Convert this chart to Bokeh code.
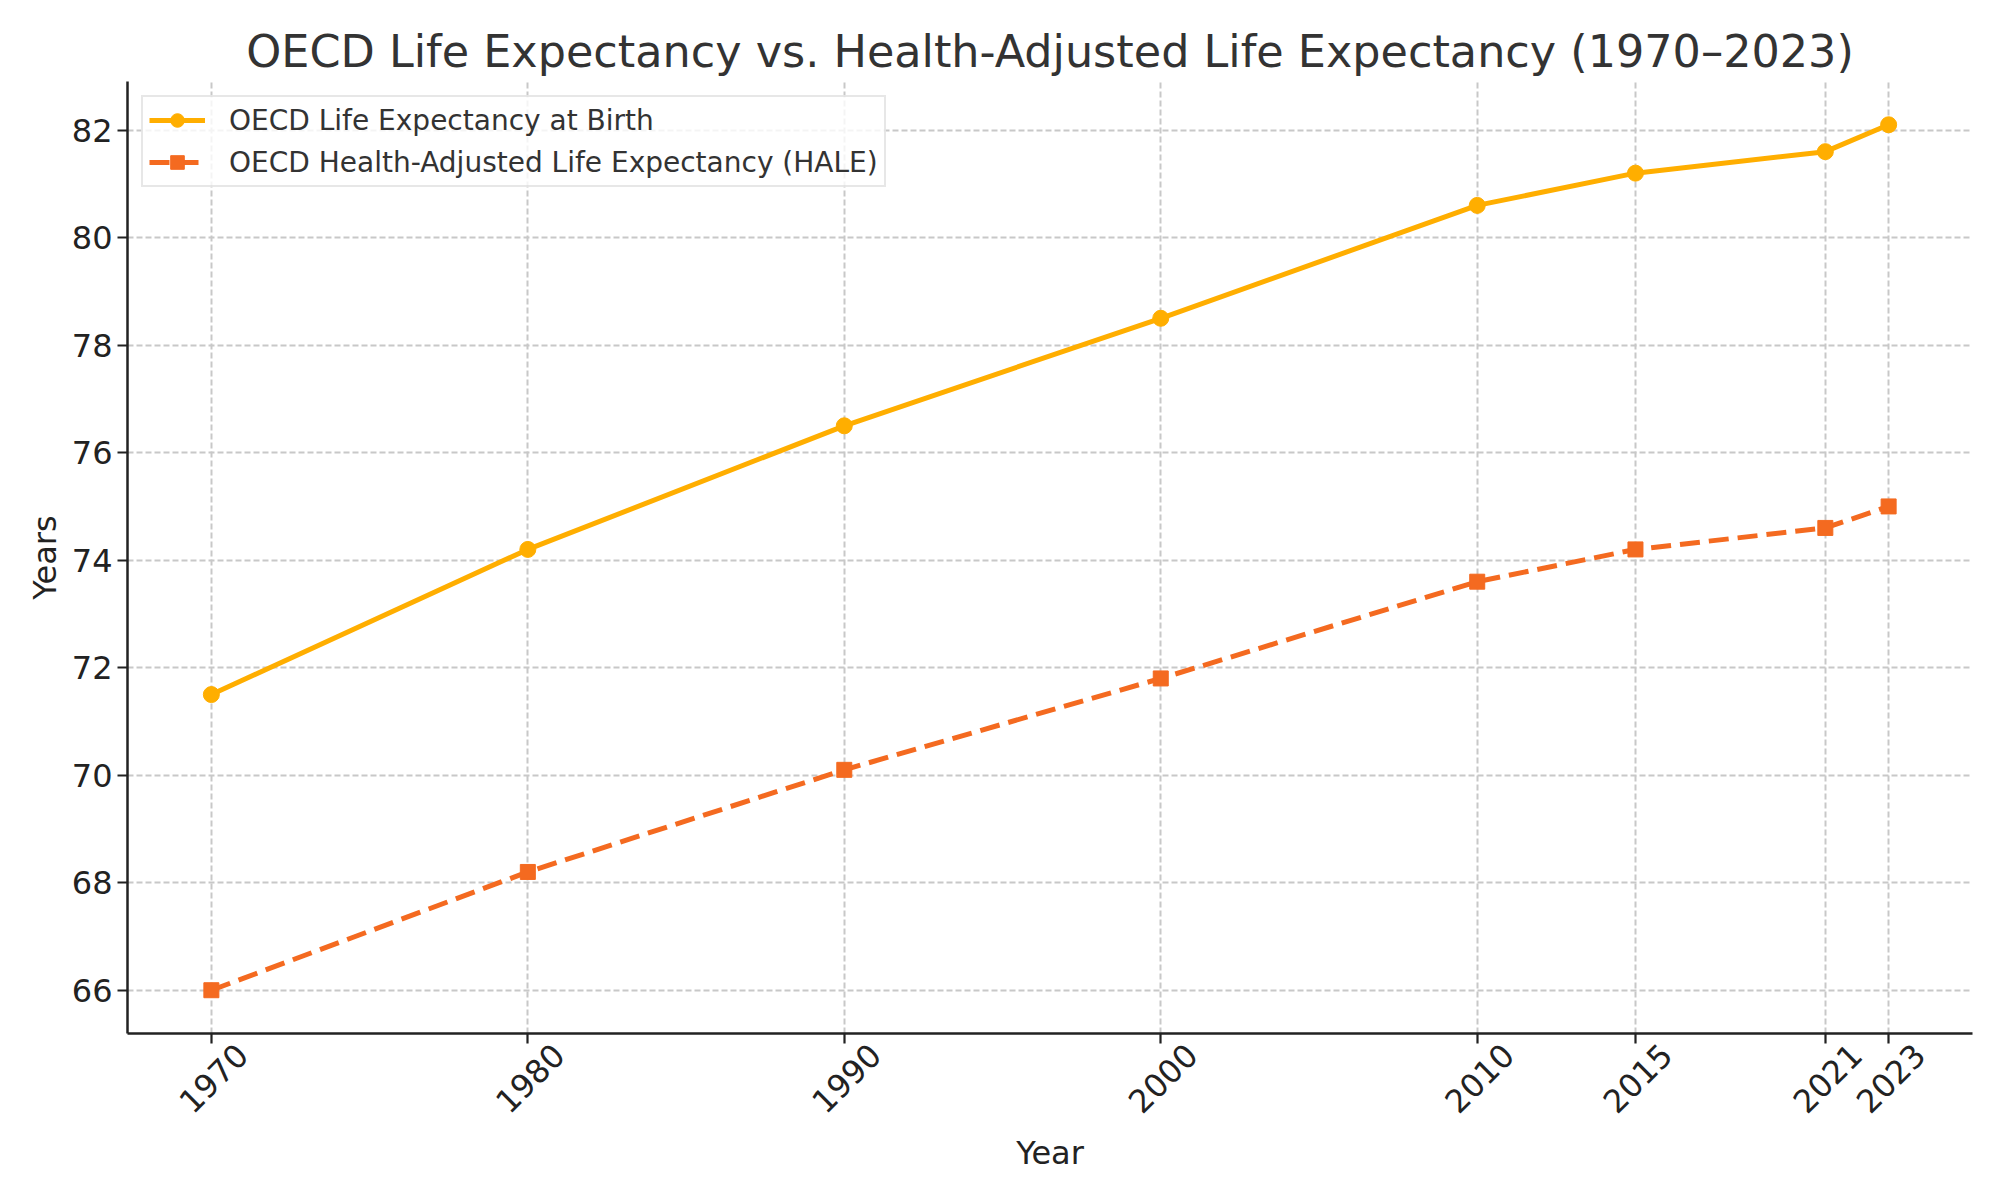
from bokeh.plotting import figure
from bokeh.models import FixedTicker, Range1d, Legend, LegendItem, LinearAxis
from bokeh.embed import file_html
from bokeh.resources import INLINE
import math

years = [1970, 1980, 1990, 2000, 2010, 2015, 2021, 2023]
year_labels = ["1970", "1980", "1990", "2000", "2010", "2015", "2021", "2023"]
life_expectancy = [71.5, 74.2, 76.5, 78.5, 80.6, 81.2, 81.6, 82.1]
hale = [66.0, 68.2, 70.1, 71.8, 73.6, 74.2, 74.6, 75.0]
y_ticks = [66, 68, 70, 72, 74, 76, 78, 80, 82]

FONT = "DejaVu Sans"
C_LE = "#FFAE00"
C_HALE = "#F46A20"

X0, X1 = 1967.35, 2025.65
W, H = 1992, 1192
BL, BR, BT, BB = 127, 20, 81, 159

p = figure(width=W, height=H, output_backend="svg", toolbar_location=None,
           x_range=Range1d(X0, X1), y_range=Range1d(65.195, 82.905),
           min_border_left=BL, min_border_right=BR, min_border_top=BT, min_border_bottom=BB,
           title="OECD Life Expectancy vs. Health-Adjusted Life Expectancy (1970–2023)")

p.title.text_font = FONT
p.title.text_font_size = "44.5px"
p.title.text_font_style = "normal"
p.title.text_color = "#333333"
p.title.align = "center"

p.outline_line_color = None
p.background_fill_color = "white"

for g in (p.xgrid, p.ygrid):
    g.grid_line_color = "#c8c8c8"
    g.grid_line_width = 2
    g.grid_line_dash = "6 3"

xa = p.xaxis[0]
ya = p.yaxis[0]
xa.ticker = FixedTicker(ticks=years)
ya.ticker = FixedTicker(ticks=y_ticks)
xa.major_label_overrides = {y: "" for y in years}

for ax in (xa, ya):
    ax.axis_line_color = "#222222"
    ax.axis_line_width = 2.5
    ax.major_tick_line_color = "#222222"
    ax.major_tick_line_width = 2.2
    ax.major_tick_out = 10
    ax.major_tick_in = 0
    ax.minor_tick_line_color = None
    ax.major_label_text_font = FONT
    ax.major_label_text_font_size = "32px"
    ax.major_label_text_color = "#222222"
    ax.axis_label_text_font = FONT
    ax.axis_label_text_font_size = "32px"
    ax.axis_label_text_font_style = "normal"
    ax.axis_label_text_color = "#222222"

xa.major_label_text_font_size = "1px"
xa.major_label_standoff = 0
ya.axis_label = "Years"
ya.major_label_standoff = 5
ya.axis_label_standoff = 5

# second x axis carrying the rotated year labels, shifted so each label is centred under its tick
px_per_year = (W - BL - BR) / (X1 - X0)
shift = 31 / px_per_year
label_pos = [y + shift for y in years]
xb = LinearAxis(ticker=FixedTicker(ticks=label_pos),
                major_label_overrides=dict(zip(label_pos, year_labels)))
xb.axis_line_color = None
xb.major_tick_line_color = None
xb.minor_tick_line_color = None
xb.major_tick_out = 0
xb.major_tick_in = 0
xb.major_label_orientation = math.pi / 4
xb.major_label_standoff = 6
xb.major_label_text_font = FONT
xb.major_label_text_font_size = "32px"
xb.major_label_text_color = "#222222"
xb.axis_label = "Year"
xb.axis_label_standoff = 8
xb.axis_label_text_font = FONT
xb.axis_label_text_font_size = "32px"
xb.axis_label_text_font_style = "normal"
xb.axis_label_text_color = "#222222"
p.add_layout(xb, "below")

l1 = p.line(years, life_expectancy, line_color=C_LE, line_width=5)
m1 = p.scatter(years, life_expectancy, marker="circle", size=16, fill_color=C_LE, line_color=C_LE)
l2 = p.line(years, hale, line_color=C_HALE, line_width=5, line_dash="20 9")
m2 = p.scatter(years, hale, marker="square", size=15, fill_color=C_HALE, line_color=C_HALE)

legend = Legend(items=[
    LegendItem(label="OECD Life Expectancy at Birth", renderers=[l1, m1]),
    LegendItem(label="OECD Health-Adjusted Life Expectancy (HALE)", renderers=[l2, m2]),
], location="top_left")
legend.margin = 14
legend.padding = 6
legend.spacing = 8
legend.glyph_width = 56
legend.glyph_height = 34
legend.label_standoff = 24
legend.label_text_font = FONT
legend.label_text_font_size = "28px"
legend.label_text_color = "#333333"
legend.border_line_color = "#d0d0d0"
legend.border_line_width = 2
legend.background_fill_alpha = 0.8
p.add_layout(legend)

open("out.html", "w").write(file_html(p, INLINE))
